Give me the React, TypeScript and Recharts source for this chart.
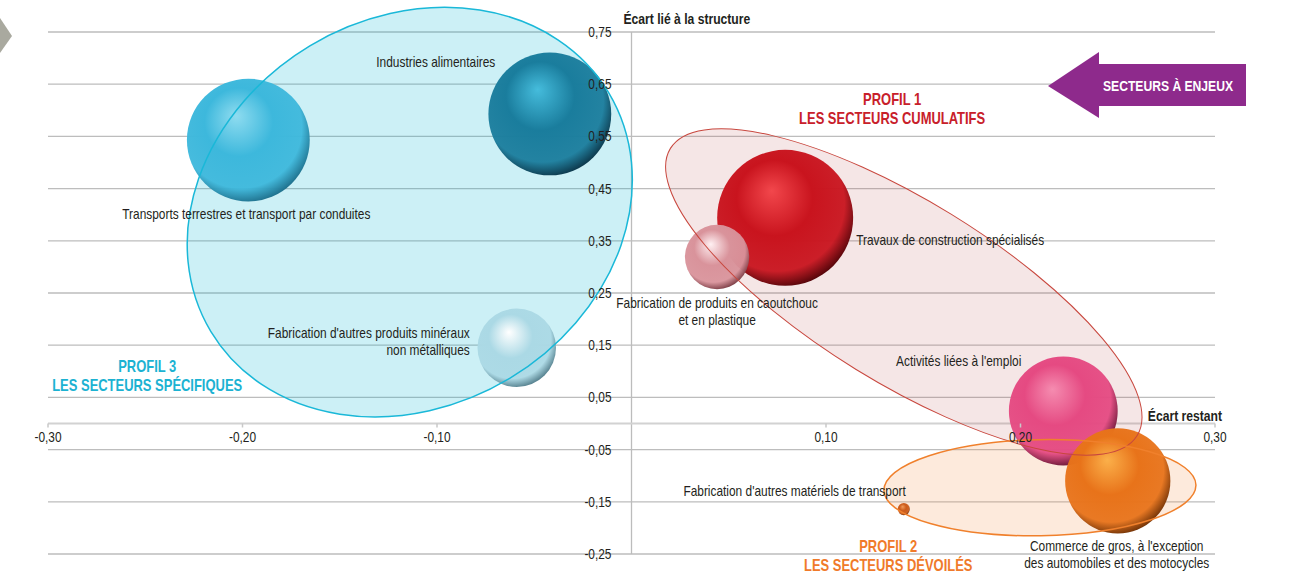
import { ScatterChart, Scatter, XAxis, YAxis, ZAxis, CartesianGrid, ReferenceLine } from 'recharts'

const FONT = "'Liberation Sans', Arial, sans-serif"
// no condensed font installed: squeeze text horizontally
const SX_REG = 0.85
const SX_BOLD = 0.81

// secteurs (ordre = ordre de dessin)
const sectors = [
  'Transports terrestres et transport par conduites',
  'Industries alimentaires',
  "Fabrication d'autres produits minéraux non métalliques",
  'Travaux de construction spécialisés',
  'Fabrication de produits en caoutchouc et en plastique',
  "Activités liées à l'emploi",
  "Commerce de gros, à l'exception des automobiles et des motocycles",
  "Fabrication d'autres matériels de transport",
]
const ecartRestant = [-0.197, -0.042, -0.059, 0.079, 0.044, 0.222, 0.250, 0.140]
const ecartStructure = [0.543, 0.593, 0.145, 0.394, 0.319, 0.024, -0.110, -0.164]
const poids = [37.2, 37.2, 15.2, 45.6, 10.2, 29.2, 27.3, 0.36]

const xTicks = [-0.3, -0.2, -0.1, 0.1, 0.2, 0.3]
const yTicks = [0.75, 0.65, 0.55, 0.45, 0.35, 0.25, 0.15, 0.05, -0.05, -0.15, -0.25]

const profileTitles = ['PROFIL 3', 'PROFIL 1', 'PROFIL 2']
const profileSubtitles = ['LES SECTEURS SPÉCIFIQUES', 'LES SECTEURS CUMULATIFS', 'LES SECTEURS DÉVOILÉS']
const profileCenterX = [-0.114, 0.140, 0.210]
const profileCenterY = [0.405, 0.252, -0.123]
const profileLabelX = [-0.249, 0.134, 0.132]
const profileLabelY = [0.110, 0.622, -0.235]

// styles
const sphereColors = [
  { hi: '#8fdcf0', base: '#3db8dc', rim: '#17617c' },
  { hi: '#45bcdc', base: '#1a7d9d', rim: '#08293a' },
  { hi: '#ffffff', base: '#abd9e5', rim: '#3f6a78' },
  { hi: '#f2474c', base: '#c9141e', rim: '#3c0004' },
  { hi: '#fff0f2', base: '#d9939b', rim: '#6a2c34' },
  { hi: '#f58cb0', base: '#e54a82', rim: '#4e0b25' },
  { hi: '#fbb04a', base: '#e8731a', rim: '#5a2400' },
  { hi: '#f09a5a', base: '#cc5c1c', rim: '#5a2400' },
]

const labelLayout = [
  { lines: ['Transports terrestres et transport par conduites'], dx: -2, dy: 79, anchor: 'middle' },
  { lines: ['Industries alimentaires'], dx: -114, dy: -47, anchor: 'middle' },
  { lines: ["Fabrication d'autres produits minéraux", 'non métalliques'], dx: -47, dy: -10, anchor: 'end' },
  { lines: ['Travaux de construction spécialisés'], dx: 71, dy: 27, anchor: 'start' },
  { lines: ['Fabrication de produits en caoutchouc', 'et en plastique'], dx: 0, dy: 51, anchor: 'middle' },
  { lines: ["Activités liées à l'emploi"], dx: -42, dy: -45, anchor: 'end' },
  { lines: ["Commerce de gros, à l'exception", 'des automobiles et des motocycles'], dx: -1, dy: 70, anchor: 'middle' },
  { lines: ["Fabrication d'autres matériels de transport"], dx: 2, dy: -13, anchor: 'end' },
]

const profileStyles = [
  { color: '#1cb2d2', fill: 'rgba(0,180,210,0.2)', stroke: '#1ab8d8', rx: 232, ry: 194, rot: -31 },
  { color: '#c8202a', fill: 'rgba(190,90,90,0.15)', stroke: '#c8473e', rx: 274, ry: 91, rot: 31.6 },
  { color: '#f07a2a', fill: 'rgba(245,150,80,0.2)', stroke: '#f0802c', rx: 156, ry: 48, rot: -1 },
]

const bubbles = sectors.map((name, i) => ({ name, x: ecartRestant[i], y: ecartStructure[i], z: poids[i], i }))
const profiles = profileTitles.map((t, i) => ({ x: profileCenterX[i], y: profileCenterY[i], i }))
const profileLabels = profileTitles.map((t, i) => ({ x: profileLabelX[i], y: profileLabelY[i], i }))
const yTickPoints = yTicks.map((v) => ({ x: 0, y: v }))
const xTickPoints = xTicks.map((v) => ({ x: v, y: 0 }))
const axisTitlePoints = [
  { x: 0, y: 0.75, text: 'Écart lié à la structure', dx: -8, dy: -8, anchor: 'start' },
  { x: 0.3, y: 0, text: 'Écart restant', dx: 7, dy: -3, anchor: 'end' },
]

const fmt = (v: number) => v.toFixed(2).replace('.', ',')

function CText({ x, y, lines, anchor = 'start', size = 14, bold = false, fill = '#231f20', lineH = 17 }: any) {
  const sx = bold ? SX_BOLD : SX_REG
  return (
    <text transform={`translate(${x} ${y}) scale(${sx} 1)`} textAnchor={anchor} fontFamily={FONT}
      fontSize={size} fontWeight={bold ? 'bold' : 'normal'} fill={fill}>
      {lines.map((s: string, k: number) => (
        <tspan key={k} x={0} dy={k === 0 ? 0 : lineH}>{s}</tspan>
      ))}
    </text>
  )
}

function Sphere(props: any) {
  const { cx, cy, payload } = props
  const r = props.width ? props.width / 2 : Math.sqrt(Math.max(props.size || 0, 0) / Math.PI)
  const c = sphereColors[payload.i]
  const id = `sph${payload.i}`
  return (
    <g>
      <defs>
        <radialGradient id={id} cx="45%" cy="42%" r="62%" fx="40%" fy="30%">
          <stop offset="0%" stopColor={c.hi} />
          <stop offset="45%" stopColor={c.base} />
          <stop offset="80%" stopColor={c.base} stopOpacity={0.95} />
          <stop offset="100%" stopColor={c.rim} />
        </radialGradient>
      </defs>
      <circle cx={cx} cy={cy} r={r} fill={`url(#${id})`} />
    </g>
  )
}

function BubbleLabel(props: any) {
  const { cx, cy, payload } = props
  const l = labelLayout[payload.i]
  return <CText x={cx + l.dx} y={cy + l.dy} lines={l.lines} anchor={l.anchor} />
}

function ProfileFill(props: any) {
  const { cx, cy, payload } = props
  const s = profileStyles[payload.i]
  return <ellipse cx={cx} cy={cy} rx={s.rx} ry={s.ry} transform={`rotate(${s.rot} ${cx} ${cy})`} fill={s.fill} />
}

function ProfileStroke(props: any) {
  const { cx, cy, payload } = props
  const s = profileStyles[payload.i]
  return (
    <ellipse cx={cx} cy={cy} rx={s.rx} ry={s.ry} transform={`rotate(${s.rot} ${cx} ${cy})`}
      fill="none" stroke={s.stroke} strokeWidth={payload.i === 1 ? 1 : 1.5} />
  )
}

function ProfileLabel(props: any) {
  const { cx, cy, payload } = props
  const s = profileStyles[payload.i]
  return (
    <CText x={cx} y={cy + 6} anchor="middle" size={16} bold fill={s.color} lineH={19}
      lines={[profileTitles[payload.i], profileSubtitles[payload.i]]} />
  )
}

function YTick(props: any) {
  const { cx, cy, payload } = props
  return <CText x={cx - 20} y={cy + 5} anchor="end" size={14} lines={[fmt(payload.y)]} />
}

function XTick(props: any) {
  const { cx, cy, payload } = props
  return (
    <g>
      <line x1={cx} y1={cy} x2={cx} y2={cy + 4} stroke="#c8c8c8" strokeWidth={1.5} />
      <CText x={cx} y={cy + 18} anchor="middle" size={14} lines={[fmt(payload.x)]} />
    </g>
  )
}

function AxisTitle(props: any) {
  const { cx, cy, payload } = props
  return <CText x={cx + payload.dx} y={cy + payload.dy} anchor={payload.anchor} size={15} bold lines={[payload.text]} />
}

export default function App() {
  return (
    <div style={{ position: 'absolute', left: 0, top: 0, width: 1299, height: 574, background: '#fff' }}>
      <ScatterChart width={1299} height={574} margin={{ top: 32, right: 84, bottom: 20, left: 48 }}>
        <XAxis type="number" dataKey="x" domain={[-0.3, 0.3]} hide />
        <YAxis type="number" dataKey="y" domain={[-0.25, 0.75]} hide />
        <ZAxis type="number" dataKey="z" domain={[0, 45.6]} range={[0, Math.PI * 68 * 68]} />
        <CartesianGrid vertical={false} horizontalValues={yTicks} stroke="#bdbdbd" strokeWidth={1.3} />
        <ReferenceLine x={0} stroke="#bcbcbc" strokeWidth={1.3} />
        <ReferenceLine y={0} stroke="#d2d2d2" strokeWidth={2} />
        <Scatter data={profiles} shape={ProfileFill} isAnimationActive={false} />
        <Scatter data={bubbles} shape={Sphere} isAnimationActive={false} />
        <Scatter data={profiles} shape={ProfileStroke} isAnimationActive={false} />
        <Scatter data={xTickPoints} shape={XTick} isAnimationActive={false} />
        <Scatter data={yTickPoints} shape={YTick} isAnimationActive={false} />
        <Scatter data={bubbles} shape={BubbleLabel} isAnimationActive={false} />
        <Scatter data={profileLabels} shape={ProfileLabel} isAnimationActive={false} />
        <Scatter data={axisTitlePoints} shape={AxisTitle} isAnimationActive={false} />
      </ScatterChart>
      <svg width={1299} height={574} style={{ position: 'absolute', left: 0, top: 0, pointerEvents: 'none' }}>
        <polygon points="0,18 12,36 0,53" fill="#a9a99f" />
        <polygon points="1048,86 1099,52 1099,64 1246,64 1246,106 1099,106 1099,118" fill="#8e2a8c" />
        <text transform={`translate(1168 91) scale(${SX_BOLD} 1)`} textAnchor="middle" fontFamily={FONT}
          fontWeight="bold" fontSize={15} fill="#fff">
          SECTEURS À ENJEUX
        </text>
      </svg>
    </div>
  )
}
